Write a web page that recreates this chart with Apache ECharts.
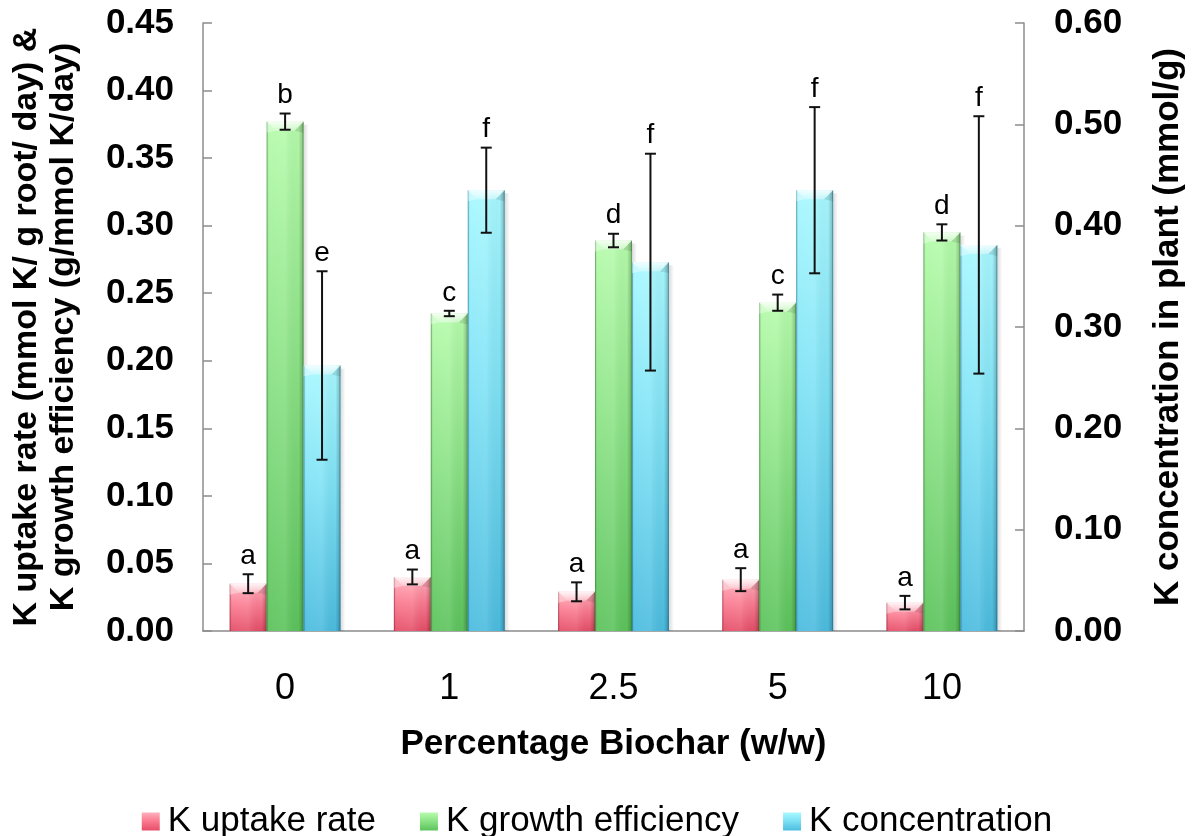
<!DOCTYPE html>
<html>
<head>
<meta charset="utf-8">
<script src="https://cdn.jsdelivr.net/npm/echarts@6/dist/echarts.min.js"></script>
<style>
html, body { margin: 0; padding: 0; background: #ffffff; }
#chart { width: 1194px; height: 836px; }
</style>
</head>
<body>
<div id="chart"></div>
<script>
// Biochar rate (% w/w) on the category axis
const categories = ['0', '1', '2.5', '5', '10'];

// K uptake rate (mmol K / g root / day) — left axis
const uptakeRate = [0.035, 0.040, 0.029, 0.038, 0.021];
const uptakeErr = [0.007, 0.0055, 0.007, 0.0085, 0.005];
const uptakeLetters = ['a', 'a', 'a', 'a', 'a'];

// K growth efficiency (g / mmol K / day) — left axis
const growthEff = [0.377, 0.235, 0.289, 0.243, 0.295];
const growthErr = [0.006, 0.002, 0.005, 0.006, 0.006];
const growthLetters = ['b', 'c', 'd', 'c', 'd'];

// K concentration in plant (mmol/g) — right axis
const concentration = [0.262, 0.435, 0.364, 0.435, 0.381];
const concErr = [0.093, 0.042, 0.107, 0.082, 0.127];
const concLetters = ['e', 'f', 'f', 'f', 'f'];

const leftTicks = { min: 0, max: 0.45, interval: 0.05 };
const rightTicks = { min: 0, max: 0.60, interval: 0.10 };

const FONT = '"Liberation Sans", Arial, Helvetica, sans-serif';
const AXIS_GREY = '#8c8c8c';

const palettes = [
  { top: '#ffb0bd', mid: '#fb7d92', bottom: '#e54e68', edge: 'rgba(150,30,50,0.35)' },
  { top: '#b6fcac', mid: '#8ee488', bottom: '#5cc35c', edge: 'rgba(30,110,30,0.35)' },
  { top: '#a8f8ff', mid: '#7fe2f5', bottom: '#4cbcdf', edge: 'rgba(20,100,140,0.40)' }
];

function vGrad(p) {
  return new echarts.graphic.LinearGradient(0, 0, 0, 1, [
    { offset: 0, color: p.top },
    { offset: 0.45, color: p.mid },
    { offset: 1, color: p.bottom }
  ]);
}

// Each measure is drawn as a bevelled bar with its error bar and letter.
function makeRenderer(slot, letters) {
  const pal = palettes[slot];
  return function (params, api) {
    const i = api.value(0);
    const v = api.value(1);
    const err = api.value(2);
    const base = api.coord([i, 0]);
    const top = api.coord([i, v]);
    const catW = api.size([1, 0])[0];
    const barW = catW * 0.225;
    const x0 = base[0] - 1.5 * barW + slot * barW;
    const x1 = x0 + barW;
    const cx = x0 + barW / 2;
    const yTop = top[1];
    const yBase = base[1];
    const h = yBase - yTop;
    const errTop = api.coord([i, v + err])[1];
    const errBot = api.coord([i, v - err])[1];
    const bv = Math.min(9, h / 2);
    const cap = 5.5;

    const children = [
      // soft shadow on the right side
      { type: 'rect', shape: { x: x1, y: yTop + 3, width: 5, height: h - 3 },
        style: { fill: new echarts.graphic.LinearGradient(0, 0, 1, 0, [
          { offset: 0, color: 'rgba(0,0,0,0.14)' }, { offset: 1, color: 'rgba(0,0,0,0)' }]) } },
      // body
      { type: 'rect', shape: { x: x0, y: yTop, width: barW, height: h },
        style: { fill: vGrad(pal) } },
      // side shading
      { type: 'rect', shape: { x: x0, y: yTop, width: barW, height: h },
        style: { fill: new echarts.graphic.LinearGradient(0, 0, 1, 0, [
          { offset: 0, color: 'rgba(0,0,0,0.16)' },
          { offset: 0.07, color: 'rgba(255,255,255,0.06)' },
          { offset: 0.5, color: 'rgba(255,255,255,0.10)' },
          { offset: 0.86, color: 'rgba(0,0,0,0.02)' },
          { offset: 1, color: 'rgba(0,0,0,0.26)' }]) } },
      // thin edges
      { type: 'line', shape: { x1: x0 + 0.5, y1: yTop, x2: x0 + 0.5, y2: yBase },
        style: { stroke: pal.edge, lineWidth: 1 } },
      { type: 'line', shape: { x1: x1 - 0.5, y1: yTop, x2: x1 - 0.5, y2: yBase },
        style: { stroke: pal.edge, lineWidth: 1.2 } },
      // bevelled top face
      { type: 'polygon', shape: { points: [[x0, yTop], [x1, yTop], [x1 - bv, yTop + bv], [x0 + bv, yTop + bv]] },
        style: { fill: new echarts.graphic.LinearGradient(0, 0, 0, 1, [
          { offset: 0, color: 'rgba(255,255,255,0.85)' }, { offset: 1, color: 'rgba(255,255,255,0.35)' }]) } },
      { type: 'polygon', shape: { points: [[x0, yTop], [x0 + bv, yTop + bv], [x0, yTop + bv + 2]] },
        style: { fill: 'rgba(255,255,255,0.35)' } },
      { type: 'polygon', shape: { points: [[x1, yTop], [x1 - bv, yTop + bv], [x1, yTop + bv + 2]] },
        style: { fill: 'rgba(0,0,0,0.10)' } },
      // error bar
      { type: 'line', shape: { x1: cx, y1: errTop, x2: cx, y2: errBot },
        style: { stroke: '#111', lineWidth: 2 } },
      { type: 'line', shape: { x1: cx - cap, y1: errTop, x2: cx + cap, y2: errTop },
        style: { stroke: '#111', lineWidth: 2 } },
      { type: 'line', shape: { x1: cx - cap, y1: errBot, x2: cx + cap, y2: errBot },
        style: { stroke: '#111', lineWidth: 2 } },
      // significance letter
      { type: 'text', x: cx, y: errTop - 4,
        style: { text: letters[params.dataIndex], fontFamily: FONT, fontSize: 28,
          fill: '#000', align: 'center', verticalAlign: 'bottom' } }
    ];
    return { type: 'group', children: children };
  };
}

function rows(values, errors) {
  return values.map((v, i) => [i, v, errors[i]]);
}

const chart = echarts.init(document.getElementById('chart'), null, { renderer: 'canvas' });

const names = ['K uptake rate', 'K growth efficiency', 'K concentration'];

chart.setOption({
  animation: false,
  backgroundColor: '#ffffff',
  textStyle: { fontFamily: FONT },
  grid: { left: 199, right: 164, top: 23, bottom: 205, containLabel: false },
  legend: {
    top: 799,
    left: 'center',
    itemWidth: 18,
    itemHeight: 18,
    itemGap: 44,
    icon: 'rect',
    textStyle: { fontFamily: FONT, fontSize: 35, color: '#000', padding: [0, 0, 0, 3] },
    data: names.map((n, k) => ({ name: n, itemStyle: { color: vGrad(palettes[k]) } }))
  },
  xAxis: {
    type: 'category',
    data: categories,
    name: 'Percentage Biochar (w/w)',
    nameLocation: 'middle',
    nameGap: 96,
    nameTextStyle: { fontFamily: FONT, fontSize: 35, fontWeight: 'bold', color: '#000' },
    axisLine: { lineStyle: { color: AXIS_GREY, width: 1.5 } },
    axisTick: { inside: true, length: 8, lineStyle: { color: AXIS_GREY, width: 1.5 } },
    axisLabel: { fontFamily: FONT, fontSize: 36, color: '#000', margin: 40 },
    splitLine: { show: false }
  },
  yAxis: [
    {
      type: 'value',
      min: leftTicks.min, max: leftTicks.max, interval: leftTicks.interval,
      name: 'K uptake rate (mmol K/ g root/ day) &\nK growth efficiency (g/mmol K/day)',
      nameLocation: 'middle',
      nameRotate: 90,
      nameGap: 121,
      nameTextStyle: { fontFamily: FONT, fontSize: 34, fontWeight: 'bold', color: '#000', lineHeight: 37 },
      axisLine: { show: true, lineStyle: { color: AXIS_GREY, width: 1.5 } },
      axisTick: { show: true, inside: true, length: 9, lineStyle: { color: AXIS_GREY, width: 1.5 } },
      axisLabel: { fontFamily: FONT, fontSize: 35, fontWeight: 'bold', color: '#000', margin: 29,
        formatter: v => v.toFixed(2) },
      splitLine: { show: false }
    },
    {
      type: 'value',
      position: 'right',
      min: rightTicks.min, max: rightTicks.max, interval: rightTicks.interval,
      name: 'K concentration in plant (mmol/g)',
      nameLocation: 'middle',
      nameRotate: 90,
      nameGap: 127,
      nameTextStyle: { fontFamily: FONT, fontSize: 35, fontWeight: 'bold', color: '#000' },
      axisLine: { show: true, lineStyle: { color: AXIS_GREY, width: 1.5 } },
      axisTick: { show: true, inside: true, length: 9, lineStyle: { color: AXIS_GREY, width: 1.5 } },
      axisLabel: { fontFamily: FONT, fontSize: 35, fontWeight: 'bold', color: '#000', margin: 30,
        formatter: v => v.toFixed(2) },
      splitLine: { show: false }
    }
  ],
  series: [
    {
      name: names[0], type: 'custom', yAxisIndex: 0,
      itemStyle: { color: palettes[0].mid },
      encode: { x: 0, y: 1 },
      renderItem: makeRenderer(0, uptakeLetters),
      data: rows(uptakeRate, uptakeErr)
    },
    {
      name: names[1], type: 'custom', yAxisIndex: 0,
      itemStyle: { color: palettes[1].mid },
      encode: { x: 0, y: 1 },
      renderItem: makeRenderer(1, growthLetters),
      data: rows(growthEff, growthErr)
    },
    {
      name: names[2], type: 'custom', yAxisIndex: 1,
      itemStyle: { color: palettes[2].mid },
      encode: { x: 0, y: 1 },
      renderItem: makeRenderer(2, concLetters),
      data: rows(concentration, concErr)
    }
  ]
});
</script>
</body>
</html>
